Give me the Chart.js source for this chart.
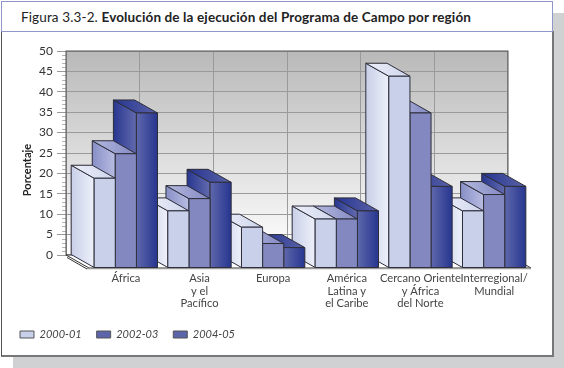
<!DOCTYPE html>
<html>
<head>
<meta charset="utf-8">
<script src="https://cdn.jsdelivr.net/npm/chart.js@4"></script>
<style>
  html, body { margin: 0; padding: 0; background: #fff; }
  .shadow1 { position: absolute; left: 552px; top: 13px; width: 12px; height: 355px; background: #d0d1d2; }
  .shadow2 { position: absolute; left: 13px; top: 357px; width: 551px; height: 11px; background: #d0d1d2; }
  .frame { position: absolute; left: 1px; top: 31px; width: 550px; height: 324px; border: 1px solid #555; border-top: 0; border-bottom: 2px solid #777; border-right: 2px solid #777; background: #fff; box-sizing: content-box; }
  .head { position: absolute; left: 1px; top: 1px; width: 550px; height: 29px; border: 1px solid #8f96c8; background: #fff; }
  .head span { position: absolute; left: 19px; top: 7px; font: 13.5px Lato, sans-serif; color: #222; white-space: nowrap; letter-spacing: 0.13px; }
  canvas { position: absolute; left: 0; top: 0; }
</style>
</head>
<body>
<div class="shadow1"></div>
<div class="shadow2"></div>
<div class="frame"></div>
<div class="head"><span>Figura 3.3-2. <b>Evolución de la ejecución del Programa de Campo por región</b></span></div>
<canvas id="chart" width="564" height="368"></canvas>
<script>
const categorias = [
    'África',
    ['Asia', 'y el', 'Pacífico'],
    'Europa',
    ['América', 'Latina y', 'el Caribe'],
    ['Cercano Oriente', 'y África', 'del Norte'],
    ['Interregional/', 'Mundial']
];
const serie2000 = [22, 14, 10, 12, 47, 14];
const serie2002 = [28, 17, 6, 12, 38, 18];
const serie2004 = [38, 21, 5, 14, 20, 20];

const depthX = 23;
const depthY = 13;

// left face, top face and front face colours per series
const caras = [
    { side: ['#c8cfe8', '#eef1fa'], top: ['#eef0fa', '#ced5ec'], front: ['#c8d0ea', '#c8d0ea'] },
    { side: ['#888fc6', '#b8bde2'], top: ['#b4b9df', '#8389c2'], front: ['#8389c0', '#8389c0'] },
    { side: ['#27368f', '#636bae'], top: ['#26348f', '#5a63a9'], front: ['#5f68ac', '#26358f'] }
];

const grad = (ctx, x0, x1, c) => {
    const g = ctx.createLinearGradient(x0, 0, x1, 0);
    g.addColorStop(0, c[0]);
    g.addColorStop(1, c[1]);
    return g;
};

const poly = (ctx, pts, fill) => {
    ctx.beginPath();
    pts.forEach((p, i) => i ? ctx.lineTo(p[0], p[1]) : ctx.moveTo(p[0], p[1]));
    ctx.closePath();
    ctx.fillStyle = fill;
    ctx.fill();
    ctx.stroke();
};

const wall3d = {
    id: 'wall3d',
    beforeDraw(chart) {
        const { ctx, chartArea: a } = chart;
        const g = ctx.createLinearGradient(0, a.top, 0, a.bottom);
        g.addColorStop(0, '#b9b9b9');
        g.addColorStop(1, '#ffffff');
        ctx.save();
        ctx.fillStyle = g;
        ctx.fillRect(a.left, a.top, a.right - a.left, a.bottom - a.top);
        ctx.restore();
    },
    beforeDatasetsDraw(chart) {
        const { ctx, chartArea: a, scales } = chart;
        ctx.save();
        ctx.lineWidth = 1;
        // minor ticks
        ctx.strokeStyle = '#b5b5b5';
        for (let v = 0; v <= 50; v++) {
            if (v % 5 === 0) continue;
            const y = Math.round(scales.y.getPixelForValue(v)) + 0.5;
            ctx.beginPath();
            ctx.moveTo(a.left - 4, y);
            ctx.lineTo(a.left, y);
            ctx.stroke();
        }
        ctx.strokeStyle = '#555';
        ctx.strokeRect(a.left, a.top, a.right - a.left, a.bottom - a.top);
        // floor
        ctx.strokeStyle = '#333';
        poly(ctx, [[a.left, a.bottom], [a.right, a.bottom], [a.right + depthX, a.bottom + depthY], [a.left + depthX, a.bottom + depthY]], '#fff');
        ctx.beginPath();
        ctx.moveTo(a.left + 1, a.bottom + 2.5);
        ctx.lineTo(a.left + depthX - 2, a.bottom + depthY + 1);
        ctx.stroke();
        ctx.strokeStyle = '#999';
        ctx.lineWidth = 1.5;
        ctx.beginPath();
        ctx.moveTo(a.left + depthX - 2, a.bottom + depthY + 0.5);
        ctx.lineTo(a.right + depthX, a.bottom + depthY + 0.5);
        ctx.stroke();
        ctx.restore();
    },
    afterDatasetsDraw(chart) {
        const { ctx } = chart;
        ctx.save();
        ctx.strokeStyle = '#2e2e3a';
        ctx.lineWidth = 1;
        ctx.lineJoin = 'round';
        // painted from the right so that each column hides the side of the next
        for (let i = categorias.length - 1; i >= 0; i--) {
            for (let j = chart.data.datasets.length - 1; j >= 0; j--) {
                const bar = chart.getDatasetMeta(j).data[i];
                const x0 = bar.x - bar.width / 2;
                const x1 = bar.x + bar.width / 2;
                const top = bar.y;
                const base = bar.base;
                const c = caras[j];
                poly(ctx, [[x0, top], [x0 + depthX, top + depthY], [x0 + depthX, base + depthY], [x0, base]],
                    grad(ctx, x0, x0 + depthX, c.side));
                poly(ctx, [[x0, top], [x1, top], [x1 + depthX, top + depthY], [x0 + depthX, top + depthY]],
                    grad(ctx, x0, x1 + depthX, c.top));
                poly(ctx, [[x0 + depthX, top + depthY], [x1 + depthX, top + depthY], [x1 + depthX, base + depthY], [x0 + depthX, base + depthY]],
                    grad(ctx, x0 + depthX, x1 + depthX, c.front));
            }
        }
        ctx.restore();
    },
    // axis title sits lower than the middle of the wall in the original
    afterDraw(chart) {
        const { ctx } = chart;
        ctx.save();
        ctx.translate(27, 170);
        ctx.rotate(-Math.PI / 2);
        ctx.textAlign = 'center';
        ctx.textBaseline = 'middle';
        ctx.fillStyle = '#222';
        ctx.font = 'bold 11px Lato';
        ctx.fillText('Porcentaje', 0, 0);
        ctx.restore();
    }
};

new Chart(document.getElementById('chart'), {
    type: 'bar',
    plugins: [wall3d],
    data: {
        labels: categorias,
        datasets: [
            { label: '2000-01', data: serie2000, backgroundColor: '#c8d0ea', borderColor: '#555', borderWidth: 1 },
            { label: '2002-03', data: serie2002, backgroundColor: '#5c64aa', borderColor: '#555', borderWidth: 1 },
            { label: '2004-05', data: serie2004, backgroundColor: '#5c64aa', borderColor: '#555', borderWidth: 1 }
        ]
    },
    options: {
        responsive: false,
        animation: false,
        layout: { padding: { left: 5, right: 56, top: 51, bottom: 18 } },
        datasets: { bar: { categoryPercentage: 0.86, barPercentage: 1 } },
        plugins: {
            tooltip: { enabled: false },
            title: { display: false },
            legend: {
                position: 'bottom',
                align: 'start',
                labels: {
                    boxWidth: 14,
                    boxHeight: 7,
                    padding: 15,
                    color: '#444',
                    font: { family: 'Lato', size: 11, style: 'italic' }
                }
            }
        },
        scales: {
            x: {
                afterFit: s => { s.height = 59; },
                grid: { drawTicks: false, color: '#9a9a9a', offset: true },
                border: { display: false },
                ticks: {
                    autoSkip: false,
                    maxRotation: 0,
                    minRotation: 0,
                    labelOffset: 23,
                    padding: 17,
                    color: '#444',
                    font: { family: 'Lato', size: 11.2, lineHeight: 1.13 }
                }
            },
            y: {
                min: 0,
                max: 50,
                afterFit: s => { s.width = 61; },
                border: { display: false },
                grid: { color: '#9a9a9a', tickColor: '#999', tickLength: 9 },
                ticks: {
                    stepSize: 5,
                    padding: 4,
                    color: '#333',
                    font: { family: 'Lato', size: 12 }
                }
            }
        }
    }
});
</script>
</body>
</html>
